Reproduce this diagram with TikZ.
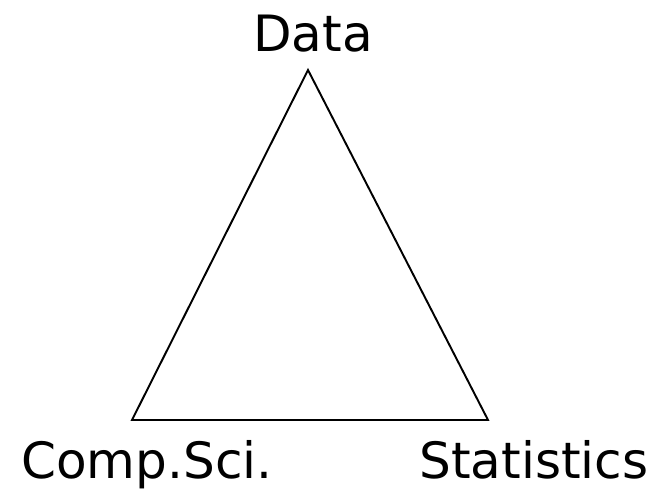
\documentclass[tikz,border=0pt]{standalone}
\usepackage{fontspec}
\setmainfont{DejaVu Sans}
\begin{document}
\begin{tikzpicture}[x=0.02cm,y=-0.02cm,
    vertexlabel/.style={anchor=base,inner sep=0pt,font=\fontsize{28.5}{32}\selectfont}]
  \useasboundingbox (0,0) rectangle (668,493);
  \coordinate (D) at (308,70);
  \coordinate (C) at (132,420);
  \coordinate (S) at (488,420);

  \draw[line width=1.1pt] (D) -- (S) -- (C) -- cycle;

  \node[vertexlabel] (data) at (313,52) {Data};
  \node[vertexlabel] (comp) at (147,478) {Comp.Sci.};
  \node[vertexlabel] (stat) at (534,478) {Statistics};
\end{tikzpicture}
\end{document}
